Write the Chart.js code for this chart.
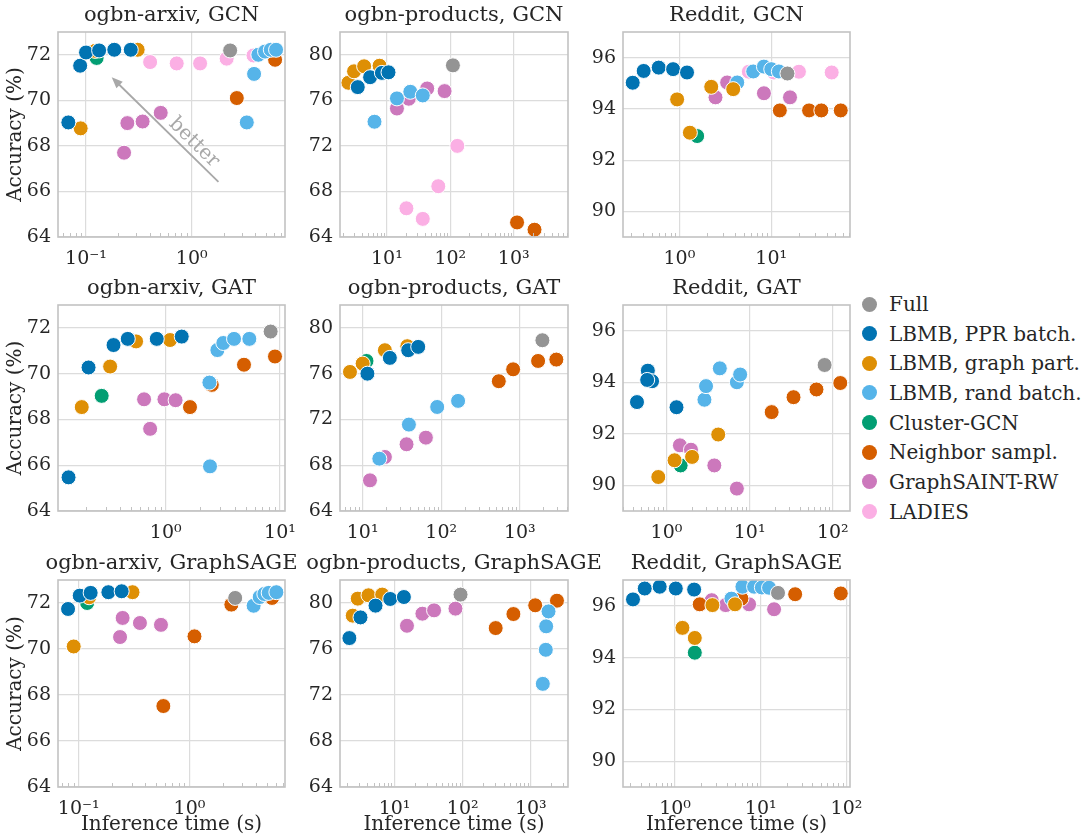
<!DOCTYPE html>
<html>
<head>
<meta charset="utf-8">
<script src="https://cdn.jsdelivr.net/npm/chart.js@4.4.0/dist/chart.umd.min.js"></script>
<style>
  html, body { margin: 0; padding: 0; background: #fff; }
  body { width: 1084px; height: 835px; position: relative; overflow: hidden; }
  canvas { position: absolute; }
  #legend { position: absolute; left: 0; top: 0; font-family: "DejaVu Serif", serif; color: #262626; font-size: 20px; }
  #legend .dot { position: absolute; width: 15px; height: 15px; border-radius: 50%; }
  #legend .txt { position: absolute; white-space: nowrap; line-height: 30px; height: 30px; }
</style>
</head>
<body>
<div id="legend"></div>
<script>
const methods = ["Full", "LBMB, PPR batch.", "LBMB, graph part.", "LBMB, rand batch.", "Cluster-GCN", "Neighbor sampl.", "GraphSAINT-RW", "LADIES"];
const methodColors = ["#949494", "#0173b2", "#de8f05", "#56b4e9", "#029e73", "#d55e00", "#cc78bc", "#fbafe4"];

// y tick labels per dataset
const arxivTicks = [64, 66, 68, 70, 72];
const productsTicks = [64, 68, 72, 76, 80];
const redditTicks = [90, 92, 94, 96];

// [inference time (s), accuracy (%)]
// ogbn-arxiv, GCN
const arxivGcnFull = [[2.31, 72.19]];
const arxivGcnPpr = [[0.068, 69.03], [0.088, 71.52], [0.1, 72.1], [0.133, 72.19], [0.185, 72.22], [0.265, 72.22]];
const arxivGcnPart = [[0.089, 68.77], [0.122, 72.17], [0.308, 72.22]];
const arxivGcnRand = [[3.32, 69.03], [3.89, 71.16], [4.27, 72.0], [4.94, 72.14], [5.6, 72.22], [6.28, 72.22]];
const arxivGcnCluster = [[0.126, 71.86]];
const arxivGcnNeighbor = [[2.67, 70.1], [6.15, 71.78]];
const arxivGcnSaint = [[0.229, 67.7], [0.246, 69.0], [0.343, 69.07], [0.509, 69.45]];
const arxivGcnLadies = [[0.404, 71.68], [0.721, 71.62], [1.2, 71.62], [2.14, 71.83], [3.84, 71.97]];

// ogbn-products, GCN
const productsGcnFull = [[110, 79.07]];
const productsGcnPpr = [[3.47, 77.16], [5.43, 78.03], [8.33, 78.41], [10.6, 78.46]];
const productsGcnPart = [[2.47, 77.54], [3.03, 78.55], [4.37, 78.99], [7.66, 79.04]];
const productsGcnRand = [[6.37, 74.12], [14.4, 76.17], [23.4, 76.75], [36.8, 76.43]];
const productsGcnCluster = [];
const productsGcnNeighbor = [[1130, 65.28], [2130, 64.64]];
const productsGcnSaint = [[14.4, 75.28], [22.1, 76.14], [43.2, 77.04], [81.3, 76.81]];
const productsGcnLadies = [[20.3, 66.52], [36.8, 65.59], [64.6, 68.46], [129, 72.0]];

// Reddit, GCN
const redditGcnFull = [[15, 95.38]];
const redditGcnPpr = [[0.31, 95.02], [0.408, 95.48], [0.595, 95.61], [0.853, 95.55], [1.21, 95.42]];
const redditGcnPart = [[0.944, 94.37], [1.3, 93.07], [2.22, 94.86], [3.85, 94.77]];
const redditGcnRand = [[4.26, 95.03], [6.36, 95.46], [8.32, 95.65], [10, 95.55], [12.1, 95.46]];
const redditGcnCluster = [[1.56, 92.94]];
const redditGcnNeighbor = [[12.4, 93.94], [25.8, 93.94], [35.1, 93.94], [57.1, 93.94]];
const redditGcnSaint = [[2.47, 94.45], [3.31, 95.03], [8.32, 94.61], [16.0, 94.45]];
const redditGcnLadies = [[5.7, 95.45], [10.7, 95.42], [20, 95.45], [45.5, 95.42]];

// ogbn-arxiv, GAT
const arxivGatFull = [[8.28, 71.84]];
const arxivGatPpr = [[0.141, 65.47], [0.211, 70.27], [0.349, 71.25], [0.465, 71.52], [0.834, 71.52], [1.38, 71.62]];
const arxivGatPart = [[0.184, 68.54], [0.326, 70.31], [0.55, 71.41], [1.09, 71.47]];
const arxivGatRand = [[2.41, 69.61], [2.44, 65.95], [2.83, 71.03], [3.19, 71.34], [3.96, 71.52], [5.39, 71.52]];
const arxivGatCluster = [[0.275, 69.03]];
const arxivGatNeighbor = [[1.63, 68.54], [2.53, 69.51], [4.84, 70.39], [9.04, 70.75]];
const arxivGatSaint = [[0.646, 68.88], [0.73, 67.59], [0.973, 68.88], [1.22, 68.84]];
const arxivGatLadies = [];

// ogbn-products, GAT
const productsGatFull = [[1940, 78.92]];
const productsGatPpr = [[11.5, 76.0], [22.2, 77.38], [38, 78.05], [51, 78.34]];
const productsGatPart = [[6.9, 76.15], [10, 76.88], [19.2, 78.05], [37, 78.4]];
const productsGatRand = [[16.3, 68.57], [38.8, 71.55], [88.9, 73.09], [164, 73.62]];
const productsGatCluster = [[11.2, 77.11]];
const productsGatNeighbor = [[541, 75.34], [823, 76.38], [1710, 77.11], [2920, 77.23]];
const productsGatSaint = [[12.4, 66.68], [19.2, 68.72], [36.2, 69.83], [63.8, 70.41]];
const productsGatLadies = [];

// Reddit, GAT
const redditGatFull = [[79.7, 94.67]];
const redditGatPpr = [[0.442, 93.23], [0.597, 94.45], [0.671, 94.04], [0.586, 94.09], [1.32, 93.03]];
const redditGatPart = [[0.797, 90.32], [1.25, 90.97], [2.03, 91.1], [4.19, 91.97]];
const redditGatRand = [[2.86, 93.32], [2.99, 93.85], [4.38, 94.54], [7.02, 94.0], [7.69, 94.3]];
const redditGatCluster = [[1.48, 90.77]];
const redditGatNeighbor = [[18.4, 92.84], [33.7, 93.42], [63.6, 93.72], [123, 93.97]];
const redditGatSaint = [[1.45, 91.55], [1.97, 91.38], [3.76, 90.77], [7.02, 89.87]];
const redditGatLadies = [];

// ogbn-arxiv, GraphSAGE
const arxivSageFull = [[2.59, 72.22]];
const arxivSagePpr = [[0.08, 71.74], [0.102, 72.32], [0.128, 72.44], [0.185, 72.47], [0.244, 72.51]];
const arxivSagePart = [[0.09, 70.11], [0.124, 72.25], [0.306, 72.47]];
const arxivSageRand = [[3.8, 71.88], [4.31, 72.26], [4.75, 72.39], [5.2, 72.44], [6.1, 72.47]];
const arxivSageCluster = [[0.119, 72.0]];
const arxivSageNeighbor = [[0.581, 67.52], [1.11, 70.55], [2.39, 71.93], [5.57, 72.22]];
const arxivSageSaint = [[0.236, 70.52], [0.249, 71.35], [0.357, 71.13], [0.553, 71.05]];
const arxivSageLadies = [];

// ogbn-products, GraphSAGE
const productsSageFull = [[92.9, 80.73]];
const productsSagePpr = [[2.17, 76.95], [3.16, 78.75], [5.25, 79.77], [8.63, 80.35], [13.7, 80.52]];
const productsSagePart = [[2.43, 78.9], [2.88, 80.38], [4.14, 80.67], [6.58, 80.73]];
const productsSageRand = [[1500, 72.97], [1660, 75.93], [1680, 77.97], [1820, 79.27]];
const productsSageCluster = [];
const productsSageNeighbor = [[305, 77.82], [555, 79.04], [1160, 79.8], [2420, 80.2]];
const productsSageSaint = [[15.2, 78.02], [25.6, 79.07], [38, 79.36], [78.3, 79.51]];
const productsSageLadies = [];

// Reddit, GraphSAGE
const redditSageFull = [[15.9, 96.5]];
const redditSagePpr = [[0.323, 96.25], [0.443, 96.67], [0.662, 96.74], [1.02, 96.67], [1.67, 96.63]];
const redditSagePart = [[1.22, 95.15], [1.7, 94.76], [2.73, 96.03], [5.01, 96.06]];
const redditSageRand = [[4.55, 96.28], [6.11, 96.74], [8.36, 96.74], [10.3, 96.71], [12.5, 96.7]];
const redditSageCluster = [[1.7, 94.19]];
const redditSageNeighbor = [[1.94, 96.06], [5.95, 96.28], [25.2, 96.45], [85.9, 96.48]];
const redditSageSaint = [[2.68, 96.22], [3.9, 96.03], [7.31, 96.06], [14.3, 95.87]];
const redditSageLadies = [];

// "better" arrow in the first panel (data coords)
const arrowTail = [1.79, 66.42];
const arrowHead = [0.175, 71.01];
const arrowLabelAt = [1.05, 68.15];

const SERIF = '"DejaVu Serif", serif';
const TEXT = "#262626";
const GRID = "#dcdcdc";
const SPINE = "#c2c2c2";
const Y_AXIS_W = 58;
const RIGHT_PAD = 58; // empty right axis as wide as the left one, so the title centres over the plot
const TITLE_H = 32;
const TITLE_SIZE = 21;
const LABEL_SIZE = 20;
const TICK_SIZE = 19;
const X_AXIS_H = 34;
const X_AXIS_H_TITLED = 50;

const panels = [
  { title: "ogbn-arxiv, GCN", series: [arxivGcnFull, arxivGcnPpr, arxivGcnPart, arxivGcnRand, arxivGcnCluster, arxivGcnNeighbor, arxivGcnSaint, arxivGcnLadies],
    xRange: [0.0543, 7.63], yRange: [64, 73], yTicks: arxivTicks, box: [58, 32, 285, 237], yTitle: true, arrow: true },
  { title: "ogbn-products, GCN", series: [productsGcnFull, productsGcnPpr, productsGcnPart, productsGcnRand, productsGcnCluster, productsGcnNeighbor, productsGcnSaint, productsGcnLadies],
    xRange: [1.82, 7190], yRange: [64, 82], yTicks: productsTicks, box: [340, 32, 567.5, 237] },
  { title: "Reddit, GCN", series: [redditGcnFull, redditGcnPpr, redditGcnPart, redditGcnRand, redditGcnCluster, redditGcnNeighbor, redditGcnSaint, redditGcnLadies],
    xRange: [0.243, 72], yRange: [89, 97], yTicks: redditTicks, box: [622.5, 32, 849.3, 237] },
  { title: "ogbn-arxiv, GAT", series: [arxivGatFull, arxivGatPpr, arxivGatPart, arxivGatRand, arxivGatCluster, arxivGatNeighbor, arxivGatSaint, arxivGatLadies],
    xRange: [0.114, 11.06], yRange: [64, 73], yTicks: arxivTicks, box: [58, 305, 285, 510.7], yTitle: true },
  { title: "ogbn-products, GAT", series: [productsGatFull, productsGatPpr, productsGatPart, productsGatRand, productsGatCluster, productsGatNeighbor, productsGatSaint, productsGatLadies],
    xRange: [5.15, 4110], yRange: [64, 82], yTicks: productsTicks, box: [340, 305, 567.5, 510.7] },
  { title: "Reddit, GAT", series: [redditGatFull, redditGatPpr, redditGatPart, redditGatRand, redditGatCluster, redditGatNeighbor, redditGatSaint, redditGatLadies],
    xRange: [0.337, 161], yRange: [89, 97], yTicks: redditTicks, box: [622.5, 305, 849.3, 510.7] },
  { title: "ogbn-arxiv, GraphSAGE", series: [arxivSageFull, arxivSagePpr, arxivSagePart, arxivSageRand, arxivSageCluster, arxivSageNeighbor, arxivSageSaint, arxivSageLadies],
    xRange: [0.0649, 7.3], yRange: [64, 73], yTicks: arxivTicks, box: [58, 580, 285, 786.7], yTitle: true, xTitle: true },
  { title: "ogbn-products, GraphSAGE", series: [productsSageFull, productsSagePpr, productsSagePart, productsSageRand, productsSageCluster, productsSageNeighbor, productsSageSaint, productsSageLadies],
    xRange: [1.58, 3515], yRange: [64, 82], yTicks: productsTicks, box: [340, 580, 567.5, 786.7], xTitle: true },
  { title: "Reddit, GraphSAGE", series: [redditSageFull, redditSagePpr, redditSagePart, redditSageRand, redditSageCluster, redditSageNeighbor, redditSageSaint, redditSageLadies],
    xRange: [0.247, 110], yRange: [89, 97], yTicks: redditTicks, box: [622.5, 580, 849.3, 786.7], xTitle: true },
];

const SUP = { "-": "\u207B", "0": "\u2070", "1": "\u00B9", "2": "\u00B2", "3": "\u00B3", "4": "\u2074" };

function powerLabel(v) {
  const e = Math.round(Math.log10(v));
  return "10" + String(e).split("").map((c) => SUP[c]).join("");
}

function decadeTicks(min, max) {
  const ticks = [];
  for (let e = Math.ceil(Math.log10(min)); e <= Math.floor(Math.log10(max)); e++) {
    ticks.push({ value: Math.pow(10, e) });
  }
  return ticks;
}

// spines on all four sides + small minor ticks on the log axis
const framePlugin = {
  id: "frame",
  afterDatasetsDraw(chart) {
    const { ctx, chartArea: a, scales } = chart;
    const xs = scales.x;
    ctx.save();
    ctx.strokeStyle = SPINE;
    ctx.lineWidth = 1;
    const lo = Math.floor(Math.log10(xs.min));
    const hi = Math.ceil(Math.log10(xs.max));
    for (let e = lo; e <= hi; e++) {
      for (let d = 2; d <= 9; d++) {
        const v = d * Math.pow(10, e);
        if (v <= xs.min || v >= xs.max) continue;
        const px = Math.round(xs.getPixelForValue(v)) + 0.5;
        ctx.beginPath();
        ctx.moveTo(px, a.bottom);
        ctx.lineTo(px, a.bottom - 4);
        ctx.stroke();
      }
    }
    ctx.lineWidth = 1.6;
    ctx.strokeRect(a.left, a.top, a.right - a.left, a.bottom - a.top);
    ctx.restore();
  },
};

const arrowPlugin = {
  id: "betterArrow",
  beforeDatasetsDraw(chart) {
    const { ctx, scales: { x, y } } = chart;
    const x0 = x.getPixelForValue(arrowTail[0]), y0 = y.getPixelForValue(arrowTail[1]);
    const x1 = x.getPixelForValue(arrowHead[0]), y1 = y.getPixelForValue(arrowHead[1]);
    const ang = Math.atan2(y1 - y0, x1 - x0);
    const headLen = 11, headW = 4.5;
    ctx.save();
    ctx.strokeStyle = "#a8a8a8";
    ctx.fillStyle = "#a8a8a8";
    ctx.lineWidth = 1.8;
    ctx.beginPath();
    ctx.moveTo(x0, y0);
    ctx.lineTo(x1 - Math.cos(ang) * headLen * 0.8, y1 - Math.sin(ang) * headLen * 0.8);
    ctx.stroke();
    ctx.beginPath();
    ctx.moveTo(x1, y1);
    ctx.lineTo(x1 - Math.cos(ang) * headLen - Math.sin(ang) * headW, y1 - Math.sin(ang) * headLen + Math.cos(ang) * headW);
    ctx.lineTo(x1 - Math.cos(ang) * headLen + Math.sin(ang) * headW, y1 - Math.sin(ang) * headLen - Math.cos(ang) * headW);
    ctx.closePath();
    ctx.fill();
    const lx = x.getPixelForValue(arrowLabelAt[0]), ly = y.getPixelForValue(arrowLabelAt[1]);
    ctx.translate(lx, ly);
    ctx.rotate(ang + Math.PI);
    ctx.font = LABEL_SIZE + "px " + SERIF;
    ctx.textAlign = "center";
    ctx.textBaseline = "middle";
    ctx.fillText("better", 0, 0);
    ctx.restore();
  },
};

function makeChart(p) {
  const [l, t, r, b] = p.box;
  const xh = p.xTitle ? X_AXIS_H_TITLED : X_AXIS_H;
  const canvas = document.createElement("canvas");
  const w = Math.round(r - l + Y_AXIS_W + RIGHT_PAD);
  const h = Math.round(b - t + TITLE_H + xh);
  canvas.width = w;
  canvas.height = h;
  canvas.style.left = (l - Y_AXIS_W) + "px";
  canvas.style.top = (t - TITLE_H) + "px";
  document.body.appendChild(canvas);

  const tickFont = { family: SERIF, size: TICK_SIZE };
  const labelFont = { family: SERIF, size: LABEL_SIZE, lineHeight: 1.2 };

  return new Chart(canvas, {
    type: "scatter",
    data: {
      datasets: p.series.map((pts, i) => ({
        label: methods[i],
        data: pts,
        backgroundColor: methodColors[i],
        borderColor: "#ffffff",
        borderWidth: 1,
        pointRadius: 7.5,
        pointHoverRadius: 7.5,
      })),
    },
    options: {
      responsive: false,
      animation: false,
      events: [],
      layout: { padding: 0 },
      plugins: {
        legend: { display: false },
        tooltip: { enabled: false },
        title: {
          display: true,
          text: p.title,
          color: TEXT,
          font: { family: SERIF, size: TITLE_SIZE, lineHeight: 1.2, weight: "normal" },
          padding: { top: 3, bottom: TITLE_H - 3 - TITLE_SIZE * 1.2 },
        },
      },
      scales: {
        x: {
          type: "logarithmic",
          min: p.xRange[0],
          max: p.xRange[1],
          afterBuildTicks: (s) => { s.ticks = decadeTicks(p.xRange[0], p.xRange[1]); },
          afterFit: (s) => { s.height = xh; },
          grid: { color: GRID, lineWidth: 1.2, drawTicks: false },
          border: { display: false },
          ticks: { callback: (v) => powerLabel(v), color: TEXT, font: tickFont, padding: 11, maxRotation: 0, autoSkip: false },
          title: { display: !!p.xTitle, text: "Inference time (s)", color: TEXT, font: labelFont, padding: { top: 0, bottom: 0 } },
        },
        y: {
          min: p.yRange[0],
          max: p.yRange[1],
          afterBuildTicks: (s) => { s.ticks = p.yTicks.map((v) => ({ value: v })); },
          afterFit: (s) => { s.width = Y_AXIS_W; },
          grid: { color: GRID, lineWidth: 1.2, drawTicks: false },
          border: { display: false },
          ticks: { color: TEXT, font: tickFont, padding: 7 },
          title: { display: !!p.yTitle, text: "Accuracy (%)", color: TEXT, font: labelFont, padding: { top: 4, bottom: 0 } },
        },
        yRight: {
          position: "right",
          afterFit: (s) => { s.width = RIGHT_PAD; },
          grid: { display: false },
          border: { display: false },
          ticks: { display: false },
        },
      },
    },
    plugins: p.arrow ? [framePlugin, arrowPlugin] : [framePlugin],
  });
}

panels.forEach(makeChart);

// legend
const legend = document.getElementById("legend");
methods.forEach((m, i) => {
  const cy = 304 + i * 29.65;
  const dot = document.createElement("div");
  dot.className = "dot";
  dot.style.left = (869 - 7.5) + "px";
  dot.style.top = (cy - 7.5) + "px";
  dot.style.background = methodColors[i];
  legend.appendChild(dot);
  const txt = document.createElement("div");
  txt.className = "txt";
  txt.style.left = "889px";
  txt.style.top = (cy - 15) + "px";
  txt.textContent = m;
  legend.appendChild(txt);
});
</script>
</body>
</html>
